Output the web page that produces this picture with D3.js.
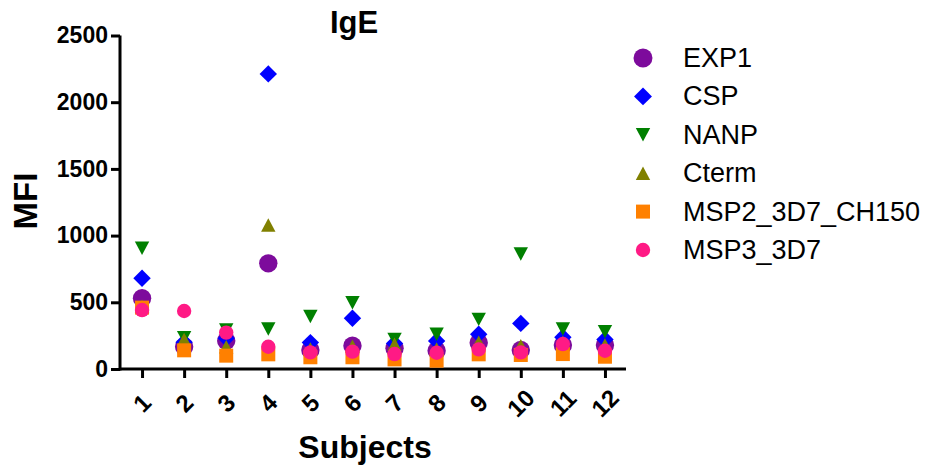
<!DOCTYPE html>
<html>
<head>
<meta charset="utf-8">
<script src="https://cdn.jsdelivr.net/npm/d3@7"></script>
<style>
  html, body { margin: 0; padding: 0; background: #fff; }
  svg { display: block; font-family: "Liberation Sans", Arial, sans-serif; }
</style>
</head>
<body>
<svg id="chart" width="932" height="468"></svg>
<script>
// IgE MFI per subject for each antigen
const subjects = ["1", "2", "3", "4", "5", "6", "7", "8", "9", "10", "11", "12"];
const EXP1  = [530, 167, 212, 792, 142, 175, 155, 137, 197, 142, 180, 180];
const CSP   = [680, 200, 230, 2212, 198, 380, 192, 210, 260, 342, 238, 222];
const NANP  = [905, 235, 292, 300, 393, 497, 222, 260, 372, 862, 300, 280];
const Cterm = [470, 222, 167, 1080, 150, 170, 185, 150, 200, 175, 200, 180];
const MSP2_3D7_CH150 = [460, 140, 100, 110, 88, 88, 72, 62, 110, 105, 112, 92];
const MSP3_3D7 = [442, 435, 273, 167, 125, 130, 112, 122, 147, 125, 187, 137];
const yTicks = [0, 500, 1000, 1500, 2000, 2500];

const seriesNames = ["EXP1", "CSP", "NANP", "Cterm", "MSP2_3D7_CH150", "MSP3_3D7"];
const seriesValues = [EXP1, CSP, NANP, Cterm, MSP2_3D7_CH150, MSP3_3D7];
const seriesColors = ["#7d0b9c", "#0000ff", "#008000", "#808000", "#ff8000", "#ff1a85"];
const seriesShapes = ["bigCircle", "diamond", "triDown", "triUp", "square", "circle"];

// Marker path generators, centred on (0,0)
function shapePath(shape, s) {
  const p = d3.path();
  switch (shape) {
    case "bigCircle": p.arc(0, 0, 9.2 * s, 0, 2 * Math.PI); break;
    case "circle": p.arc(0, 0, 7.2 * s, 0, 2 * Math.PI); break;
    case "diamond": {
      const r = 8.7 * s;
      p.moveTo(0, -r); p.lineTo(r, 0); p.lineTo(0, r); p.lineTo(-r, 0); p.closePath();
      break;
    }
    case "triDown": {
      const w = 7.2 * s, h = 6.7 * s;
      p.moveTo(-w, -h); p.lineTo(w, -h); p.lineTo(0, h); p.closePath();
      break;
    }
    case "triUp": {
      const w = 7.2 * s, h = 6.7 * s;
      p.moveTo(-w, h); p.lineTo(w, h); p.lineTo(0, -h); p.closePath();
      break;
    }
    case "square": {
      const r = 7 * s;
      p.rect(-r, -r, 2 * r, 2 * r);
      break;
    }
  }
  return p.toString();
}

const svg = d3.select("#chart");

const x = d3.scaleLinear().domain([0.5, 12.5]).range([121, 626]);
const y = d3.scaleLinear().domain([0, 2500]).range([369, 35.5]);

// Axes
const yAxis = svg.append("g").attr("transform", "translate(120,0)")
  .call(d3.axisLeft(y).tickValues(yTicks).tickFormat(d3.format("d"))
    .tickSize(9).tickPadding(3).tickSizeOuter(0));
const xAxis = svg.append("g").attr("transform", "translate(0,369)")
  .call(d3.axisBottom(x).tickValues(subjects.map((d, i) => i + 1)).tickSize(9).tickSizeOuter(0).tickFormat(""));

[yAxis, xAxis].forEach(g => {
  g.select(".domain").attr("stroke", "#000").attr("stroke-width", 3);
  g.selectAll(".tick line").attr("stroke", "#000").attr("stroke-width", 3);
});
xAxis.select(".domain").attr("d", "M119,0H626");
yAxis.select(".domain").attr("d", "M0,35.5V370.5");

yAxis.selectAll(".tick text")
  .attr("fill", "#000")
  .style("font-size", "23px")
  .style("font-weight", "bold")
  .style("font-family", "'Liberation Sans', Arial, sans-serif");

// Rotated subject labels
svg.append("g").selectAll("text")
  .data(subjects)
  .join("text")
  .attr("transform", (d, i) => `translate(${x(i + 1)},403) rotate(-45)`)
  .attr("text-anchor", "middle")
  .attr("dominant-baseline", "central")
  .style("font-size", "24px")
  .style("font-weight", "bold")
  .text(d => d);

// Markers, drawn series by series
seriesValues.forEach((vals, si) => {
  svg.append("g").selectAll("path")
    .data(vals)
    .join("path")
    .attr("transform", (v, i) => `translate(${x(i + 1)},${y(v)})`)
    .attr("d", shapePath(seriesShapes[si], 1))
    .attr("fill", seriesColors[si]);
});

// Titles
svg.append("text").attr("x", 354).attr("y", 33)
  .attr("text-anchor", "middle")
  .style("font-size", "31px").style("font-weight", "bold")
  .text("IgE");

svg.append("text").attr("x", 365).attr("y", 458)
  .attr("text-anchor", "middle")
  .style("font-size", "32px").style("font-weight", "bold")
  .text("Subjects");

svg.append("text")
  .attr("transform", "translate(37,201) rotate(-90)")
  .attr("text-anchor", "middle")
  .style("font-size", "33px").style("font-weight", "bold")
  .text("MFI");

// Legend
const legendSizes = [1.03, 1.03, 1.0, 1.0, 1.0, 1.0];
const legend = svg.append("g");
seriesNames.forEach((name, i) => {
  const ly = 58 + i * 38.4;
  legend.append("path")
    .attr("transform", `translate(643,${ly})`)
    .attr("d", shapePath(seriesShapes[i], legendSizes[i]))
    .attr("fill", seriesColors[i]);
  legend.append("text")
    .attr("x", 683).attr("y", ly)
    .attr("dominant-baseline", "central")
    .style("font-size", "27px")
    .text(name);
});
</script>
</body>
</html>
